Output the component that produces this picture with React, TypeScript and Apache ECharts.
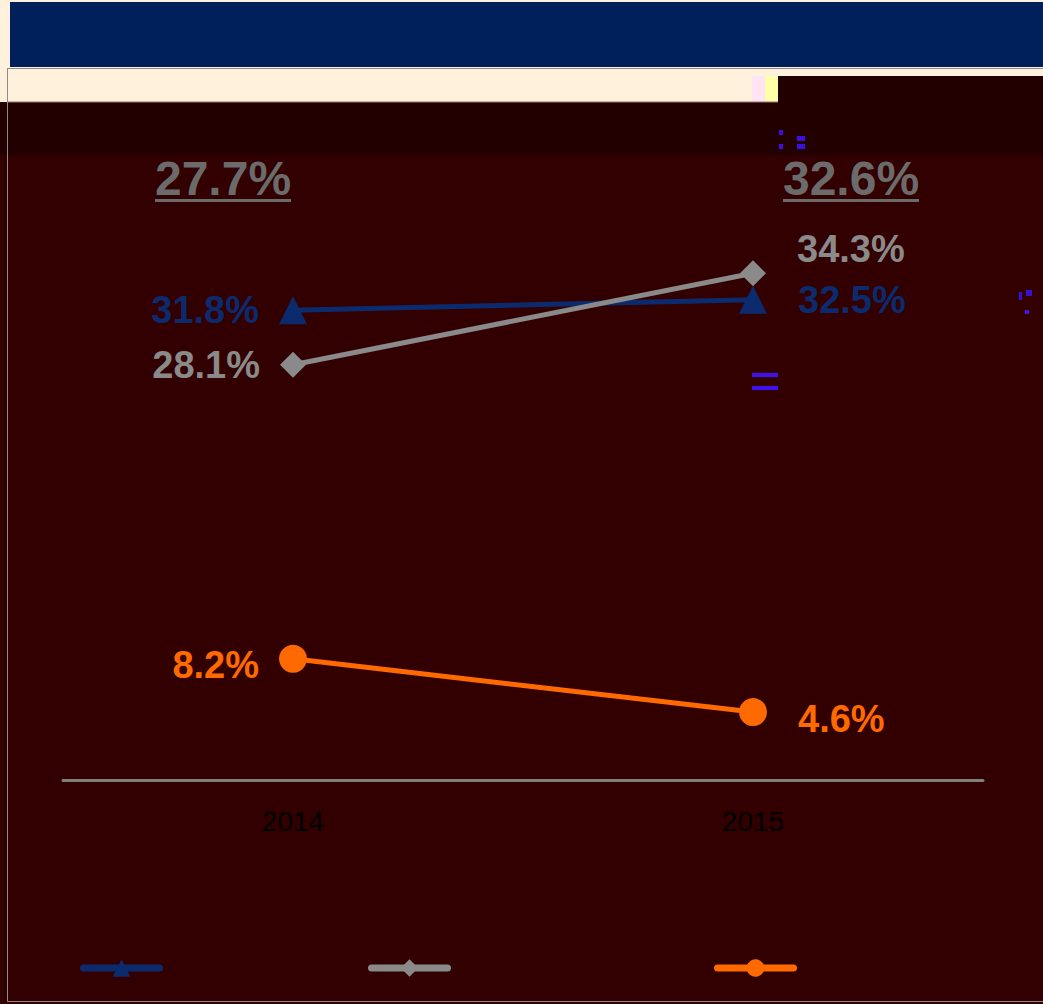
import React, { useEffect, useRef } from "react";
import * as echarts from "echarts";

const years = ["2014", "2015"];
const seriesNames = ["Series A", "Series B", "Series C"];
const blueValues = [31.8, 32.5];
const grayValues = [28.1, 34.3];
const orangeValues = [8.2, 4.6];
const totals = ["27.7%", "32.6%"];

const NAVY = "#0b2b6e";
const GRAY = "#8a8a8a";
const ORANGE = "#ff6a00";
const FONT = "'Liberation Sans', Arial, sans-serif";

function makeSeries(name: string, values: number[], color: string, symbol: string, size: number, z: number, offsets: number[][]) {
  return {
    name,
    type: "line",
    z,
    data: values.map((v, i) => ({
      value: v,
      label: {
        show: true,
        position: i === 0 ? "left" : "right",
        distance: i === 0 ? 20 : 31,
        offset: offsets[i],
        formatter: (p: any) => p.value.toFixed(1) + "%",
        color,
        fontFamily: FONT,
        fontWeight: "bold",
        fontSize: 38,
      },
    })),
    symbol,
    symbolSize: size,
    showAllSymbol: true,
    itemStyle: { color },
    lineStyle: { color, width: 5 },
  };
}

export default function App() {
  const ref = useRef<HTMLDivElement>(null);
  useEffect(() => {
    const chart = echarts.init(ref.current!, null, { renderer: "svg" });
    const legendLefts = [75, 363, 709];
    chart.setOption({
      animation: false,
      backgroundColor: "#fff1dc",
      graphic: [
        { type: "rect", z: -10, shape: { x: 10, y: 2, width: 1033, height: 65 }, style: { fill: "#00205c" } },
        { type: "rect", z: -11, shape: { x: 0, y: 102, width: 1043, height: 902 }, style: { fill: "#320000" } },
        { type: "rect", z: -10, shape: { x: 7.5, y: 68.5, width: 1040, height: 933 }, style: { fill: "#320000", stroke: "#8c8c8c", lineWidth: 1 } },
        { type: "rect", z: -9, shape: { x: 8, y: 69, width: 1035, height: 7 }, style: { fill: "#fff1dc" } },
        { type: "rect", z: -9, shape: { x: 8, y: 76, width: 744, height: 26 }, style: { fill: "#fff1dc" } },
        { type: "rect", z: -9, shape: { x: 752, y: 76, width: 13, height: 26 }, style: { fill: "#ffe4f6" } },
        { type: "rect", z: -9, shape: { x: 765, y: 76, width: 13, height: 26 }, style: { fill: "#ffffa8" } },
        { type: "line", z: -9, shape: { x1: 8, y1: 102, x2: 778, y2: 102 }, style: { stroke: "#8a7a70", lineWidth: 1 } },
        { type: "rect", z: -9, shape: { x: 0, y: 103, width: 7, height: 52 }, style: { fill: "#230000" } },
        { type: "rect", z: -9, shape: { x: 8, y: 103, width: 1035, height: 52 }, style: { fill: "#230000" } },
        { type: "rect", z: -9, shape: { x: 778, y: 76, width: 265, height: 79 }, style: { fill: "#230000" } },
        { type: "rect", z: -8, shape: { x: 779, y: 130, width: 4, height: 5 }, style: { fill: "#3a10e0" } },
        { type: "rect", z: -8, shape: { x: 779, y: 144, width: 4, height: 5 }, style: { fill: "#3a10e0" } },
        { type: "rect", z: -8, shape: { x: 797, y: 136, width: 8, height: 5 }, style: { fill: "#3a10e0" } },
        { type: "rect", z: -8, shape: { x: 797, y: 144, width: 8, height: 5 }, style: { fill: "#3a10e0" } },
        { type: "rect", z: -8, shape: { x: 752, y: 373, width: 26, height: 4 }, style: { fill: "#4010f0" } },
        { type: "rect", z: -8, shape: { x: 752, y: 386, width: 26, height: 4 }, style: { fill: "#4010f0" } },
        { type: "rect", z: -8, shape: { x: 1019, y: 292, width: 3, height: 8 }, style: { fill: "#3a10d0" } },
        { type: "rect", z: -8, shape: { x: 1026, y: 290, width: 6, height: 6 }, style: { fill: "#3a10d0" } },
        { type: "rect", z: -8, shape: { x: 1025, y: 310, width: 4, height: 4 }, style: { fill: "#4a10f0" } },
        { type: "text", x: 223, y: 178, style: { text: totals[0], fill: "#6b6b6b", font: `bold 48px ${FONT}`, align: "center", verticalAlign: "middle" } },
        { type: "rect", shape: { x: 155, y: 199, width: 136, height: 3 }, style: { fill: "#6b6b6b" } },
        { type: "text", x: 851, y: 178, style: { text: totals[1], fill: "#6b6b6b", font: `bold 48px ${FONT}`, align: "center", verticalAlign: "middle" } },
        { type: "rect", shape: { x: 783, y: 199, width: 136, height: 3 }, style: { fill: "#6b6b6b" } },
      ],
      grid: { left: 63, right: 60, top: 189, bottom: 224 },
      xAxis: {
        type: "category",
        data: years,
        boundaryGap: true,
        axisLine: { lineStyle: { color: "#808080", width: 3 } },
        axisTick: { show: false },
        axisLabel: { color: "#000", fontSize: 28, fontFamily: FONT, margin: 27 },
      },
      yAxis: { type: "value", min: 0, max: 40, show: false, splitLine: { show: false } },
      legend: seriesNames.map((n, i) => ({
        data: [n],
        left: legendLefts[i],
        top: 952,
        itemWidth: 76,
        itemHeight: 22,
        lineStyle: { width: 7, cap: "round" },
        formatter: () => "",
        textStyle: { color: "#320000" },
      })),
      series: [
        makeSeries(seriesNames[0], blueValues, NAVY, "triangle", 28, 2, [[0, 0], [0, 0]]),
        makeSeries(seriesNames[1], grayValues, GRAY, "diamond", 26, 3, [[0, 0], [0, -24]]),
        makeSeries(seriesNames[2], orangeValues, ORANGE, "circle", 28, 4, [[0, 6], [0, 7]]),
      ],
    });
    return () => chart.dispose();
  }, []);
  return <div ref={ref} style={{ position: "absolute", left: 0, top: 0, width: 1043, height: 1004 }} />;
}
